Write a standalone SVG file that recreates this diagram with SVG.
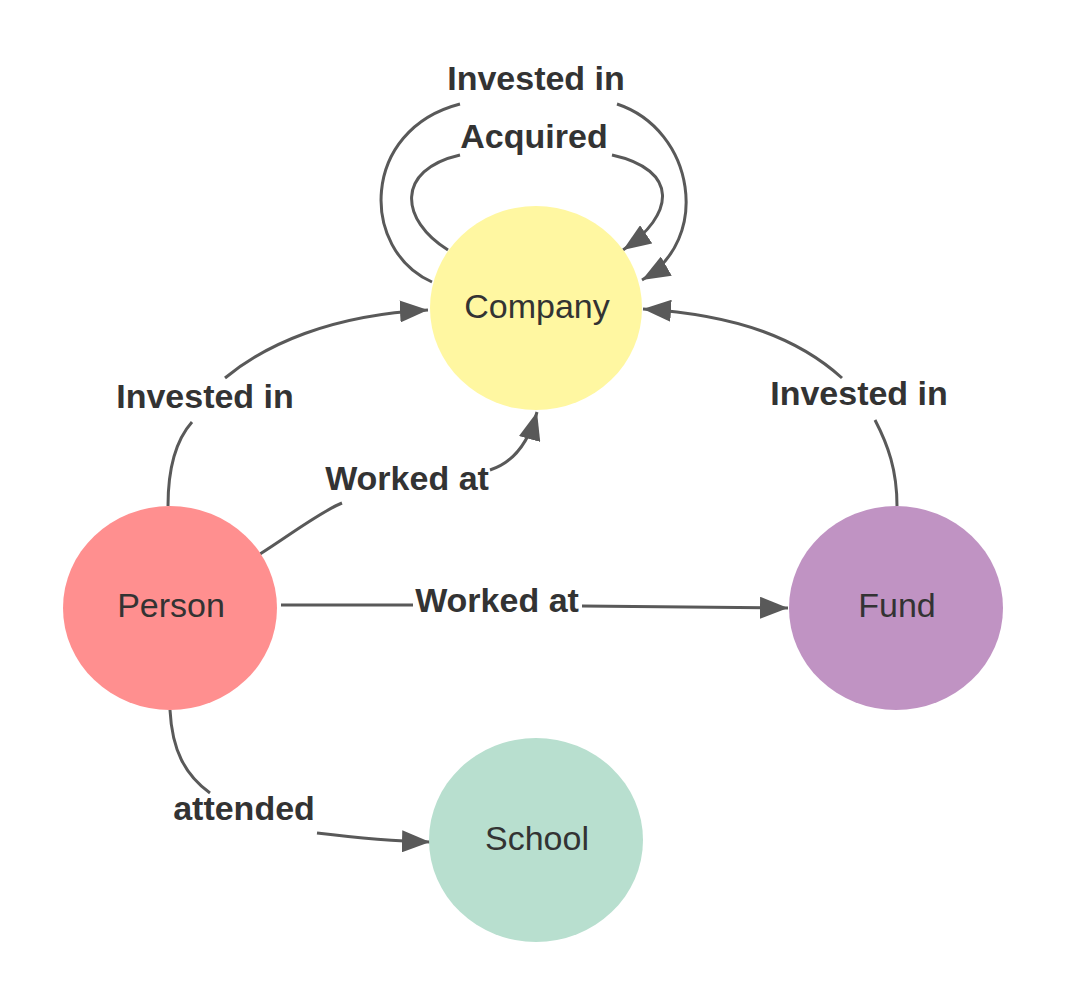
<svg xmlns="http://www.w3.org/2000/svg" width="1067" height="1006" viewBox="0 0 1067 1006">
<style>
.node-label{font-family:"Liberation Sans",Arial,sans-serif;font-size:34px;fill:#333333;text-anchor:middle}
.edge-label{font-family:"Liberation Sans",Arial,sans-serif;font-size:34px;font-weight:bold;fill:#333333;text-anchor:middle}
.edge{fill:none;stroke:#595959;stroke-width:3;marker-end:url(#arrow)}
</style>
<defs>
<marker id="arrow" markerUnits="userSpaceOnUse" markerWidth="30" markerHeight="22" refX="28" refY="11" orient="auto">
<path d="M0,0 L28,11 L0,22 z" fill="#595959"/>
</marker>
</defs>
<rect width="1067" height="1006" fill="#ffffff"/>
<g id="connectors">
<path class="edge" d="M168,506 C168,470 176,440 192,422 M225,378 C265,345 330,315 428,310"/>
<path class="edge" d="M260,554 C290,535 320,512 342,503 M490,470 C512,463 528,445 537,412"/>
<path class="edge" d="M281,605 L413,605 M582,606 L788,608"/>
<path class="edge" d="M897,506 C897,470 888,445 875,420 M842,378 C800,340 740,315 643,309"/>
<path class="edge" d="M170,710 C172,750 185,775 210,793 M317,833 C350,837 390,841 430,842"/>
<path class="edge" d="M448,250 C400,220 395,170 460,155 M612,155 C680,170 675,215 623,250"/>
<path class="edge" d="M432,282 C360,250 360,130 460,104 M617,104 C695,130 712,240 642,280"/>
</g>
<g id="edge-labels">
<text class="edge-label" x="205" y="408">Invested in</text>
<text class="edge-label" x="407" y="490">Worked at</text>
<text class="edge-label" x="497" y="612">Worked at</text>
<text class="edge-label" x="859" y="405">Invested in</text>
<text class="edge-label" x="244" y="820">attended</text>
<text class="edge-label" x="534" y="148">Acquired</text>
<text class="edge-label" x="536" y="90">Invested in</text>
</g>
<g id="company">
<ellipse cx="536" cy="308" rx="106" ry="102" fill="#FFF7A1"/>
<text class="node-label" x="537" y="318">Company</text>
</g>
<g id="person">
<ellipse cx="170" cy="608" rx="107" ry="102" fill="#FF8F8F"/>
<text class="node-label" x="171" y="617">Person</text>
</g>
<g id="fund">
<ellipse cx="896" cy="608" rx="107" ry="102" fill="#C093C3"/>
<text class="node-label" x="897" y="617">Fund</text>
</g>
<g id="school">
<ellipse cx="536" cy="840" rx="107" ry="102" fill="#B8DFCF"/>
<text class="node-label" x="537" y="850">School</text>
</g>
</svg>
